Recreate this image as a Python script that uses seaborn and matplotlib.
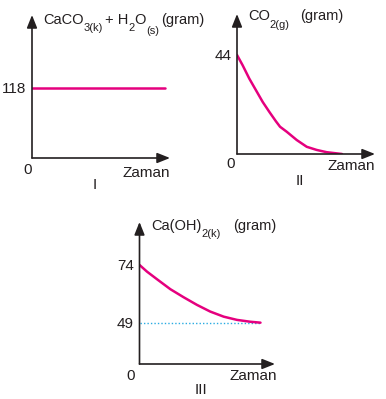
import matplotlib
matplotlib.use("Agg")
import matplotlib.pyplot as plt
import seaborn as sns
import pandas as pd

# ---- data ----
time_I = [0, 10]
mass_I = [118, 118]

time_II = [0, 0.54, 1.17, 1.81, 2.45, 3.08, 3.71, 4.10, 4.73, 5.69, 6.64, 7.59, 8.54, 10]
mass_II = [44, 39.4, 33.5, 28.3, 23.1, 18.7, 14.5, 12.1, 9.9, 6.2, 3.2, 1.8, 0.8, 0]

time_III = [0, 0.62, 1.45, 2.55, 3.65, 4.75, 5.85, 6.96, 8.06, 9.16, 10]
mass_III = [74, 71.1, 67.8, 63.5, 60.0, 56.7, 53.8, 51.6, 50.2, 49.4, 49]
final_III = [49, 49]

ticks_I = [118]
ticks_II = [44]
ticks_III = [74, 49]

roman = ["I", "II", "III"]
xlabel = "Zaman"

sns.set_style("white")
plt.rcParams["font.family"] = ["Liberation Sans", "DejaVu Sans"]

W, H = 386, 399
fig = plt.figure(figsize=(W / 100, H / 100), dpi=100)
fig.patch.set_facecolor("white")
renderer = fig.canvas.get_renderer()

MAG = "#E5007E"
BLUE = "#29ABE2"
AX = "#231F20"
FS = 11
FT = 10.5
FSUB = 8


def px_axes(left, top, right, bottom):
    return fig.add_axes([left / W, 1 - bottom / H, (right - left) / W, (bottom - top) / H])


def style(ax, xlim, ylim, yt):
    ax.set_xlim(*xlim)
    ax.set_ylim(*ylim)
    for s in ax.spines.values():
        s.set_visible(False)
    ax.set_xticks([])
    ax.set_yticks(yt)
    ax.set_yticklabels([str(v) for v in yt], fontsize=FS, color=AX)
    ax.tick_params(axis="y", length=0, pad=4)
    ax.set_xlabel("")
    ax.set_ylabel("")
    ax.patch.set_alpha(0)
    kw = dict(xycoords="axes fraction", textcoords="axes fraction",
              arrowprops=dict(arrowstyle="-|>,head_length=0.55,head_width=0.22",
                              color=AX, lw=1.2, mutation_scale=14,
                              shrinkA=0, shrinkB=0), annotation_clip=False)
    ax.annotate("", xy=(1, 0), xytext=(0, 0), **kw)
    ax.annotate("", xy=(0, 1), xytext=(0, 0), **kw)


def ftext(x, y, s, size=FS, **kw):
    return fig.text(x / W, 1 - y / H, s, fontsize=size, color=AX, **kw)


def rich(segs):
    """segs: (text, size, min_x or None, baseline_y, gap)"""
    cur = 0
    for s, size, minx, y, gap in segs:
        x = cur + gap if minx is None else max(minx, cur + gap)
        t = ftext(x, y, s, size, ha="left", va="baseline")
        bb = t.get_window_extent(renderer=renderer)
        cur = bb.x1


# Panel I
ax1 = px_axes(32, 15, 170, 158)
sns.lineplot(data=pd.DataFrame({"t": time_I, "m": mass_I}), x="t", y="m",
             ax=ax1, color=MAG, lw=1.8)
style(ax1, (0, 10.38), (0, 241), ticks_I)

# Panel II
ax2 = px_axes(237, 14, 375, 154)
sns.lineplot(data=pd.DataFrame({"t": time_II, "m": mass_II}), x="t", y="m",
             ax=ax2, color=MAG, lw=1.8)
style(ax2, (0, 13.14), (0, 62.2), ticks_II)

# Panel III
ax3 = px_axes(139.5, 222, 275, 364)
sns.lineplot(x=[time_III[0], time_III[-1]], y=final_III, ax=ax3,
             color=BLUE, lw=1.0, linestyle=(0, (1, 1.5)))
sns.lineplot(data=pd.DataFrame({"t": time_III, "m": mass_III}), x="t", y="m",
             ax=ax3, color=MAG, lw=1.8)
style(ax3, (0, 11.2), (31.1, 92.6), ticks_III)

# titles (main text + subscripts)
rich([("CaCO", FT, 43, 24, 0),
      ("3(k)", FSUB, None, 31, 0),
      ("+ H", FT, 105, 24, 2),
      ("2", FSUB, None, 31, 0),
      ("O", FT, None, 24, 0),
      ("(s)", FSUB, None, 34, 0),
      ("(gram)", FT, 160, 24, 2)])

rich([("CO", FT, 248, 20, 0),
      ("2(g)", FSUB, None, 28, 0),
      ("(gram)", FT, 300, 20, 7)])

rich([("Ca(OH)", FT, 151, 230, 0),
      ("2(k)", FSUB, None, 237, 0),
      ("(gram)", FT, 233, 230, 7)])

# origin zeros
ftext(27.5, 174, "0", ha="center", va="baseline")
ftext(230.5, 168, "0", ha="center", va="baseline")
ftext(131, 380, "0", ha="center", va="baseline")

# x labels
ftext(146, 177, xlabel, ha="center", va="baseline")
ftext(351, 170, xlabel, ha="center", va="baseline")
ftext(253.5, 380, xlabel, ha="center", va="baseline")

# roman numerals
ftext(95, 189, roman[0], ha="center", va="baseline")
ftext(300, 185, roman[1], ha="center", va="baseline")
ftext(201, 394, roman[2], ha="center", va="baseline")

fig.savefig("out.png", dpi=100, facecolor="white")
